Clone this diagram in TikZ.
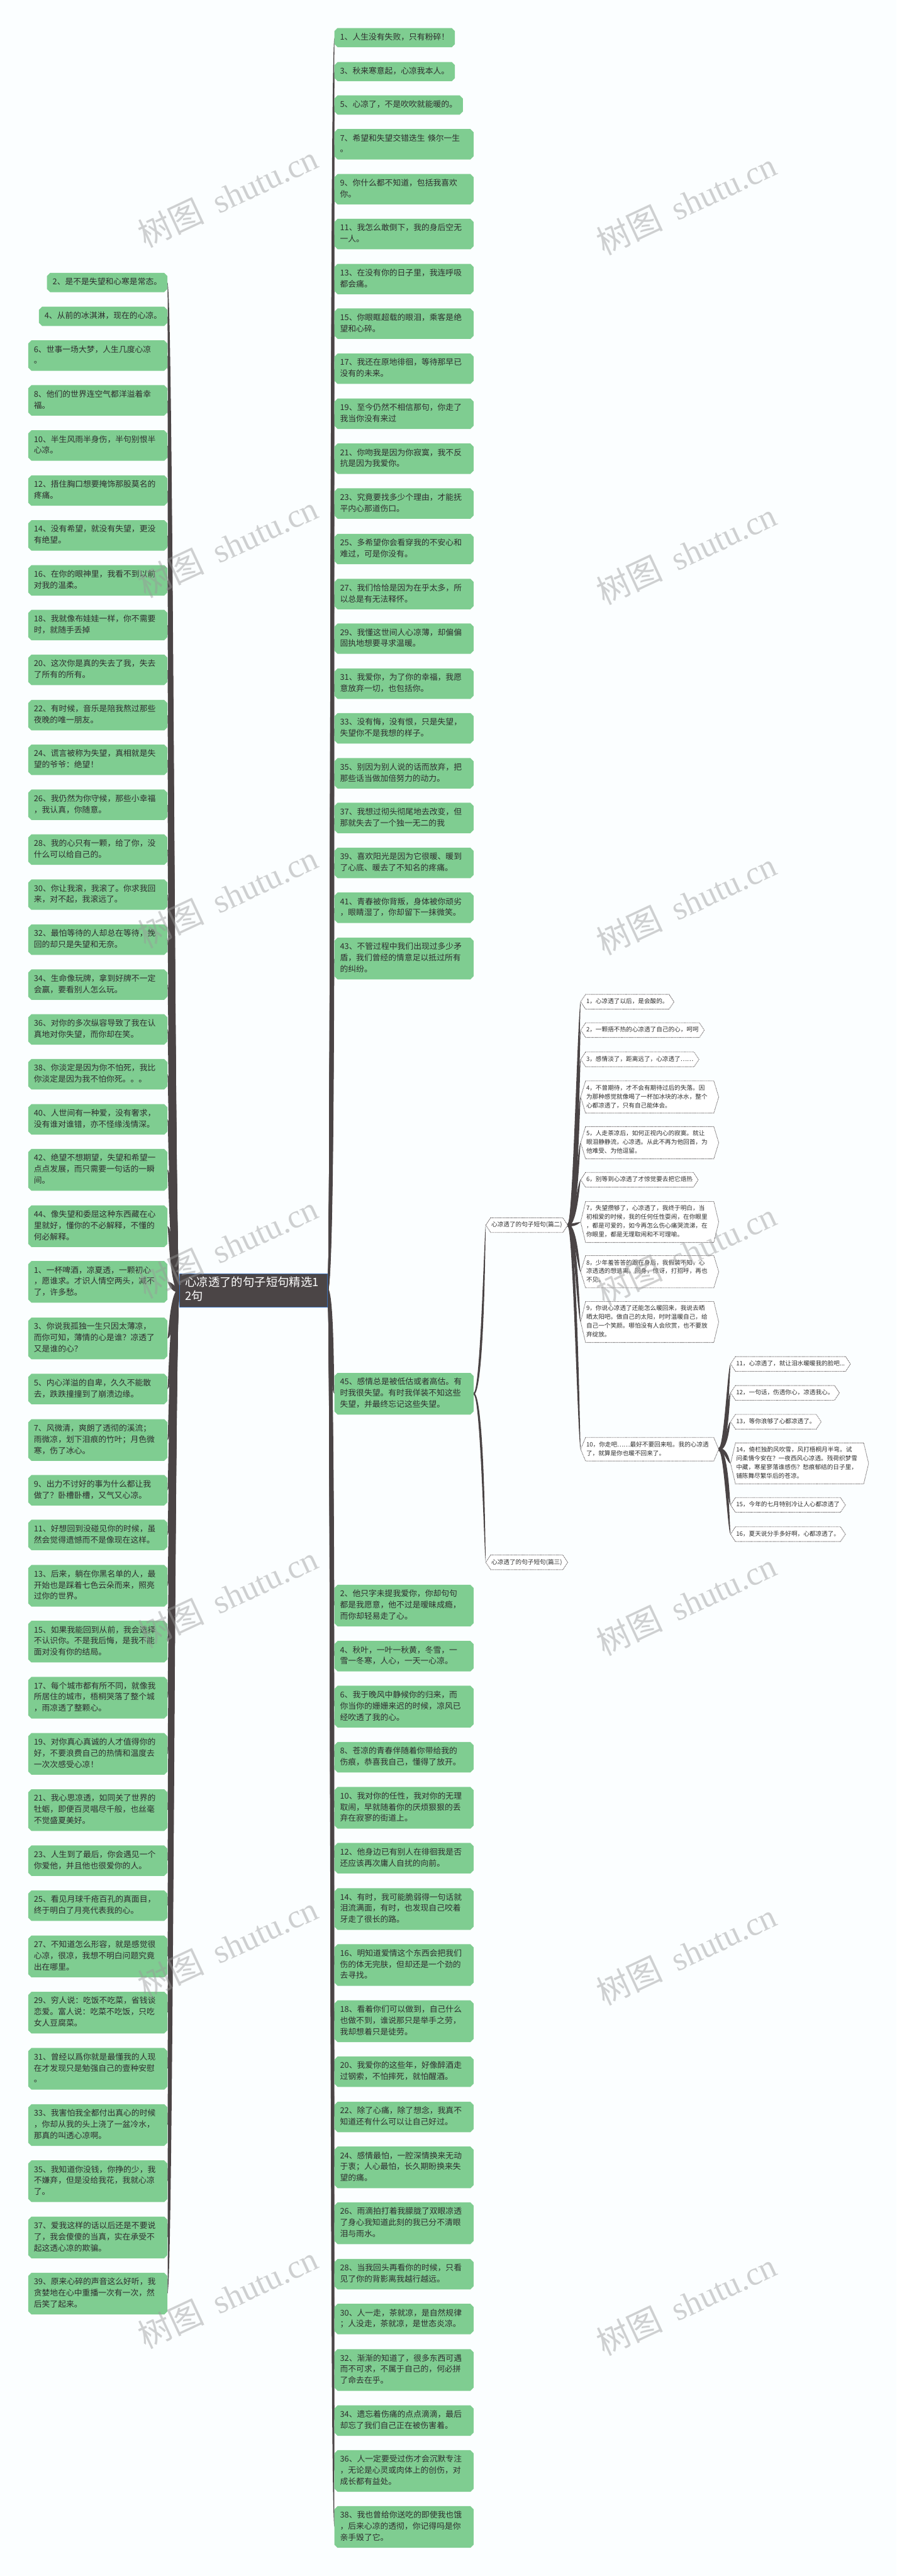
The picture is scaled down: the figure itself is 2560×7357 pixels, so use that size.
\documentclass[tikz,border=0pt]{standalone}
\usepackage{fontspec}
\setmainfont{Noto Sans CJK SC}
\newfontfamily\wmlatin{Liberation Serif}
\usetikzlibrary{calc}
\pgfdeclarelayer{bg}
\pgfdeclarelayer{mid}
\pgfsetlayers{bg,mid,main}
\definecolor{gfill}{HTML}{7FCD91}
\definecolor{lk}{HTML}{4A4445}
\definecolor{txt}{HTML}{2E2E2E}
\definecolor{rootfill}{HTML}{4B4546}
\definecolor{rootedge}{HTML}{3A6DB5}
\definecolor{bgc}{HTML}{FBFEFF}
\newcommand{\myg}{\fontsize{6.54pt}{9.1pt}\selectfont}
\newcommand{\myh}{\fontsize{4.92pt}{7.11pt}\selectfont}
\newcommand{\myr}{\fontsize{9.39pt}{11.38pt}\selectfont}
\newcommand{\myw}{\fontsize{27pt}{27pt}\selectfont}
\newcommand{\tap}[8]{\fill[lk] ($(#1)+(0,#3)$) .. controls +(#5,0) and +(#6,0) .. (#2) .. controls +(#7,0) and +(#8,0) .. ($(#1)+(0,#4)$) -- cycle;}
\newcommand{\gbx}[1]{\fill[gfill] ($(#1.north west)+(9,0)$) -- ($(#1.north east)+(-9,0)$) -- ($(#1.north east)+(0,9)$) -- ($(#1.south east)+(0,-9)$) -- ($(#1.south east)+(-9,0)$) -- ($(#1.south west)+(9,0)$) -- ($(#1.south west)+(0,-9)$) -- ($(#1.north west)+(0,9)$) -- cycle;}
\newcommand{\hexb}[1]{\filldraw[hexs] ($(#1.north west)+(14,0)$) -- ($(#1.north east)+(-14,0)$) -- (#1.east) -- ($(#1.south east)+(-14,0)$) -- ($(#1.south west)+(14,0)$) -- (#1.west) -- cycle;}
\tikzset{
 gn/.style={draw=none, fill=none, outer sep=0pt, inner xsep=0.16cm, inner ysep=0.115cm, align=left, font=\myg, text=txt, execute at begin node=\strut, execute at end node=\strut},
 gw/.style={gn, text width=3.65cm},
 hn/.style={draw=none, fill=none, outer sep=0pt, inner xsep=0.16cm, inner ysep=0.085cm, align=left, font=\myh, text=txt, execute at begin node=\strut, execute at end node=\strut},
 hw/.style={hn, text width=3.62cm},
 hexs/.style={fill=white, draw=lk, line width=0.45pt, dash pattern=on 0.45pt off 0.5pt},
 gl/.style={anchor=east},
 gr/.style={anchor=west},
 wmark/.style={rotate=25, text=black!40, opacity=0.45, font=\myw, inner sep=0pt},
}
\begin{document}
\begin{tikzpicture}[x=0.01cm,y=-0.01cm]
\useasboundingbox (0,0) rectangle (2560,7357);
\begin{pgfonlayer}{bg}
\fill[bgc] (0,0) rectangle (2560,7357);
\end{pgfonlayer}
% root
\node[draw=rootedge, fill=rootfill, line width=0.6pt, text=white, font=\myr, align=left, text width=3.9cm, inner xsep=0.16cm, inner ysep=0.075cm, outer sep=0pt, execute at begin node=\strut, execute at end node=\strut] (root) at (724,3685.5) {心凉透了的句子短句精选1\\2句};
% left column
\node[gn,gl] (l2) at (478,807) {2、是不是失望和心寒是常态。};
\node[gn,gl] (l4) at (478,903.5) {4、从前的冰淇淋，现在的心凉。};
\node[gw,gl] (l6) at (478,1015.5) {6、世事一场大梦，人生几度心凉\\。};
\node[gw,gl] (l8) at (478,1143.5) {8、他们的世界连空气都洋溢着幸\\福。};
\node[gw,gl] (l10) at (478,1272.5) {10、半生风雨半身伤，半句别恨半\\心凉。};
\node[gw,gl] (l12) at (478,1401) {12、捂住胸口想要掩饰那股莫名的\\疼痛。};
\node[gw,gl] (l14) at (478,1529) {14、没有希望，就没有失望，更没\\有绝望。};
\node[gw,gl] (l16) at (478,1657.5) {16、在你的眼神里，我看不到以前\\对我的温柔。};
\node[gw,gl] (l18) at (478,1785) {18、我就像布娃娃一样，你不需要\\时，就随手丢掉};
\node[gw,gl] (l20) at (478,1913) {20、这次你是真的失去了我，失去\\了所有的所有。};
\node[gw,gl] (l22) at (478,2042.5) {22、有时候，音乐是陪我熬过那些\\夜晚的唯一朋友。};
\node[gw,gl] (l24) at (478,2170) {24、谎言被称为失望，真相就是失\\望的爷爷：绝望！};
\node[gw,gl] (l26) at (478,2298.5) {26、我仍然为你守候，那些小幸福\\，我认真，你随意。};
\node[gw,gl] (l28) at (478,2426.5) {28、我的心只有一颗，给了你，没\\什么可以给自己的。};
\node[gw,gl] (l30) at (478,2555) {30、你让我滚，我滚了。你求我回\\来，对不起，我滚远了。};
\node[gw,gl] (l32) at (478,2683.5) {32、最怕等待的人却总在等待，挽\\回的却只是失望和无奈。};
\node[gw,gl] (l34) at (478,2812) {34、生命像玩牌，拿到好牌不一定\\会赢，要看别人怎么玩。};
\node[gw,gl] (l36) at (478,2940) {36、对你的多次纵容导致了我在认\\真地对你失望，而你却在笑。};
\node[gw,gl] (l38) at (478,3068) {38、你淡定是因为你不怕死，我比\\你淡定是因为我不怕你死。。。};
\node[gw,gl] (l40) at (478,3197) {40、人世间有一种爱，没有奢求，\\没有谁对谁错，亦不怪缘浅情深。};
\node[gw,gl] (l42) at (478,3341) {42、绝望不想期望，失望和希望一\\点点发展，而只需要一句话的一瞬\\间。};
\node[gw,gl] (l44) at (478,3502) {44、像失望和委屈这种东西藏在心\\里就好，懂你的不必解释，不懂的\\何必解释。};
\node[gw,gl] (l1) at (478,3661) {1、一杯啤酒，凉夏透，一颗初心\\，愿谁求。才识人情空两头，减不\\了，许多愁。};
\node[gw,gl] (l3) at (478,3822.5) {3、你说我孤独一生只因太薄凉，\\而你可知，薄情的心是谁？凉透了\\又是谁的心？};
\node[gw,gl] (l5) at (478,3967) {5、内心洋溢的自卑，久久不能散\\去，跌跌撞撞到了崩溃边缘。};
\node[gw,gl] (l7) at (478,4112.5) {7、风微清，爽朗了透彻的溪流；\\雨微凉，划下泪痕的竹叶；月色微\\寒，伤了冰心。};
\node[gw,gl] (l9) at (478,4256) {9、出力不讨好的事为什么都让我\\做了？卧槽卧槽，又气又心凉。};
\node[gw,gl] (l11) at (478,4383.5) {11、好想回到没碰见你的时候，虽\\然会觉得遗憾而不是像现在这样。};
\node[gw,gl] (l13) at (478,4529) {13、后来，躺在你黑名单的人，最\\开始也是踩着七色云朵而来，照亮\\过你的世界。};
\node[gw,gl] (l15) at (478,4688.5) {15、如果我能回到从前，我会选择\\不认识你。不是我后悔，是我不能\\面对没有你的结局。};
\node[gw,gl] (l17) at (478,4848.5) {17、每个城市都有所不同，就像我\\所居住的城市，梧桐哭落了整个城\\，雨凉透了整颗心。};
\node[gw,gl] (l19) at (478,5009) {19、对你真心真诚的人才值得你的\\好，不要浪费自己的热情和温度去\\一次次感受心凉！};
\node[gw,gl] (l21) at (478,5169.5) {21、我心思凉透，如同关了世界的\\牡蛎，即便百灵唱尽千般，也丝毫\\不觉盛夏美好。};
\node[gw,gl] (l23) at (478,5314) {23、人生到了最后，你会遇见一个\\你爱他，并且他也很爱你的人。};
\node[gw,gl] (l25) at (478,5442.5) {25、看见月球千疮百孔的真面目，\\终于明白了月亮代表我的心。};
\node[gw,gl] (l27) at (478,5587.5) {27、不知道怎么形容，就是感觉很\\心凉，很凉，我想不明白问题究竟\\出在哪里。};
\node[gw,gl] (l29) at (478,5748) {29、穷人说：吃饭不吃菜，省钱谈\\恋爱。富人说：吃菜不吃饭，只吃\\女人豆腐菜。};
\node[gw,gl] (l31) at (478,5908.5) {31、曾经以爲你就是最懂我的人现\\在才发现只是勉强自己的壹种安慰\\。};
\node[gw,gl] (l33) at (478,6069) {33、我害怕我全都付出真心的时候\\，你却从我的头上浇了一盆冷水，\\那真的叫透心凉啊。};
\node[gw,gl] (l35) at (478,6229.5) {35、我知道你没钱，你挣的少，我\\不嫌弃，但是没给我花，我就心凉\\了。};
\node[gw,gl] (l37) at (478,6390) {37、爱我这样的话以后还是不要说\\了，我会傻傻的当真，实在承受不\\起这透心凉的欺骗。};
\node[gw,gl] (l39) at (478,6550.5) {39、原来心碎的声音这么好听，我\\贪婪地在心中重播一次有一次，然\\后笑了起来。};
% right column
\node[gn,gr] (r1) at (955,107.5) {1、人生没有失败，只有粉碎！};
\node[gn,gr] (r3) at (955,204.5) {3、秋来寒意起，心凉我本人。};
\node[gn,gr] (r5) at (955,300) {5、心凉了，不是吹吹就能暖的。};
\node[gw,gr] (r7) at (955,412) {7、希望和失望交错迭生 倏尔一生\\。};
\node[gw,gr] (r9) at (955,540.5) {9、你什么都不知道，包括我喜欢\\你。};
\node[gw,gr] (r11) at (955,668.5) {11、我怎么敢倒下，我的身后空无\\一人。};
\node[gw,gr] (r13) at (955,797) {13、在没有你的日子里，我连呼吸\\都会痛。};
\node[gw,gr] (r15) at (955,924.5) {15、你眼眶超载的眼泪，乘客是绝\\望和心碎。};
\node[gw,gr] (r17) at (955,1053) {17、我还在原地徘徊，等待那早已\\没有的未来。};
\node[gw,gr] (r19) at (955,1181.5) {19、至今仍然不相信那句，你走了\\我当你没有来过};
\node[gw,gr] (r21) at (955,1310) {21、你吻我是因为你寂寞，我不反\\抗是因为我爱你。};
\node[gw,gr] (r23) at (955,1438) {23、究竟要找多少个理由，才能抚\\平内心那道伤口。};
\node[gw,gr] (r25) at (955,1568) {25、多希望你会看穿我的不安心和\\难过，可是你没有。};
\node[gw,gr] (r27) at (955,1696.5) {27、我们恰恰是因为在乎太多，所\\以总是有无法释怀。};
\node[gw,gr] (r29) at (955,1824) {29、我懂这世间人心凉薄，却偏偏\\固执地想要寻求温暖。};
\node[gw,gr] (r31) at (955,1952.5) {31、我爱你，为了你的幸福，我愿\\意放弃一切，也包括你。};
\node[gw,gr] (r33) at (955,2080) {33、没有悔，没有恨，只是失望，\\失望你不是我想的样子。};
\node[gw,gr] (r35) at (955,2208.5) {35、别因为别人说的话而放弃，把\\那些话当做加倍努力的动力。};
\node[gw,gr] (r37) at (955,2336) {37、我想过彻头彻尾地去改变，但\\那就失去了一个独一无二的我};
\node[gw,gr] (r39) at (955,2464.5) {39、喜欢阳光是因为它很暖、暖到\\了心底、暖去了不知名的疼痛。};
\node[gw,gr] (r41) at (955,2592.5) {41、青春被你背叛，身体被你顽劣\\，眼睛湿了，你却留下一抹微笑。};
\node[gw,gr] (r43) at (955,2737.5) {43、不管过程中我们出现过多少矛\\盾，我们曾经的情意足以抵过所有\\的纠纷。};
\node[gw,gr] (r45) at (955,3980.5) {45、感情总是被低估或者高估。有\\时我很失望。有时我佯装不知这些\\失望，并最终忘记这些失望。};
\node[gw,gr] (r2) at (955,4585.5) {2、他只字未提我爱你，你却句句\\都是我愿意，他不过是暧昧成瘾，\\而你却轻易走了心。};
\node[gw,gr] (r4) at (955,4730) {4、秋叶，一叶一秋黄，冬雪，一\\雪一冬寒，人心，一天一心凉。};
\node[gw,gr] (r6) at (955,4874) {6、我于晚风中静候你的归来，而\\你当你的姗姗来迟的时候，凉风已\\经吹透了我的心。};
\node[gw,gr] (r8) at (955,5018.5) {8、苍凉的青春伴随着你带给我的\\伤痕，恭喜我自己，懂得了放开。};
\node[gw,gr] (r10) at (955,5163) {10、我对你的任性，我对你的无理\\取闹，早就随着你的厌烦狠狠的丢\\弃在寂寥的街道上。};
\node[gw,gr] (r12) at (955,5307) {12、他身边已有别人在徘徊我是否\\还应该再次庸人自扰的向前。};
\node[gw,gr] (r14) at (955,5452) {14、有时，我可能脆弱得一句话就\\泪流满面，有时，也发现自己咬着\\牙走了很长的路。};
\node[gw,gr] (r16) at (955,5612) {16、明知道爱情这个东西会把我们\\伤的体无完肤，但却还是一个劲的\\去寻找。};
\node[gw,gr] (r18) at (955,5772.5) {18、看着你们可以做到，自己什么\\也做不到，谁说那只是举手之劳，\\我却想着只是徒劳。};
\node[gw,gr] (r20) at (955,5916.5) {20、我爱你的这些年，好像醉酒走\\过钢索，不怕摔死，就怕醒酒。};
\node[gw,gr] (r22) at (955,6046) {22、除了心痛，除了想念，我真不\\知道还有什么可以让自己好过。};
\node[gw,gr] (r24) at (955,6190) {24、感情最怕，一腔深情换来无动\\于衷；人心最怕，长久期盼换来失\\望的痛。};
\node[gw,gr] (r26) at (955,6349.5) {26、雨滴拍打着我朦胧了双眼凉透\\了身心我知道此刻的我已分不清眼\\泪与雨水。};
\node[gw,gr] (r28) at (955,6495) {28、当我回头再看你的时候，只看\\见了你的背影离我越行越远。};
\node[gw,gr] (r30) at (955,6623) {30、人一走，茶就凉，是自然规律\\；人没走，茶就凉，是世态炎凉。};
\node[gw,gr] (r32) at (955,6768.5) {32、渐渐的知道了，很多东西可遇\\而不可求，不属于自己的，何必拼\\了命去在乎。};
\node[gw,gr] (r34) at (955,6913) {34、遗忘着伤痛的点点滴滴，最后\\却忘了我们自己正在被伤害着。};
\node[gw,gr] (r36) at (955,7057) {36、人一定要受过伤才会沉默专注\\，无论是心灵或肉体上的创伤，对\\成长都有益处。};
\node[gw,gr] (r38) at (955,7217) {38、我也曾给你送吃的即使我也饿\\，后来心凉的透彻，你记得吗是你\\亲手毁了它。};
% second level
\node[hn,gr] (pian2) at (1387,3499) {心凉透了的句子短句(篇二)};
\node[hn,gr] (pian3) at (1387,4462) {心凉透了的句子短句(篇三)};
\node[hn,gr] (p1) at (1658,2861) {1，心凉透了以后，是会酸的。};
\node[hn,gr] (p2) at (1658,2942) {2，一颗捂不热的心凉透了自己的心，呵呵};
\node[hn,gr] (p3) at (1658,3025.5) {3，感情淡了，距离远了，心凉透了……};
\node[hw,gr] (p4) at (1658,3133) {4，不曾期待，才不会有期待过后的失落。因\\为那种感觉就像喝了一杯加冰块的冰水，整个\\心都凉透了，只有自己能体会。};
\node[hw,gr] (p5) at (1658,3263.5) {5，人走茶凉后，如何正视内心的寂寞。就让\\眼泪静静流，心凉透。从此不再为他回首，为\\他难受、为他逗留。};
\node[hn,gr] (p6) at (1658,3369.5) {6，别等到心凉透了才惊觉要去把它焐热};
\node[hw,gr] (p7) at (1658,3490) {7，失望攒够了，心凉透了，我终于明白，当\\初相爱的时候，我的任何任性耍闹，在你眼里\\，都是可爱的，如今再怎么伤心痛哭流涕，在\\你眼里，都是无理取闹和不可理喻。};
\node[hw,gr] (p8) at (1658,3632) {8，少年羞答答的跟在身后，我假装不知，心\\凉透透的想逃离。回身，惊讶，打招呼，再也\\不见。};
\node[hw,gr] (p9) at (1658,3775.5) {9，你说心凉透了还能怎么暖回来，我说去晒\\晒太阳吧。做自己的太阳，时时温暖自己，给\\自己一个笑颜。哪怕没有人会欣赏，也不要放\\弃绽放。};
\node[hw,gr] (p10) at (1658,4139) {10，你走吧……最好不要回来啦。我的心凉透\\了，就算是你也暖不回来了。};
\node[hn,gr] (f11) at (2086,3895.5) {11，心凉透了，就让泪水暖暖我的脸吧...};
\node[hn,gr] (f12) at (2086,3978) {12，一句话，伤透你心，凉透我心。};
\node[hn,gr] (f13) at (2086,4060.5) {13，等你浪够了心都凉透了。};
\node[hw,gr] (f14) at (2086,4179.5) {14，倚栏独酌风吹雪，风打梧桐月半弯。试\\问柔情今安在？一夜西风心凉透。残荷织梦雪\\中藏，寒星寥落谁感伤？愁痕郁结的日子里，\\铺陈舞尽繁华后的苍凉。};
\node[hn,gr] (f15) at (2086,4298) {15，今年的七月特别冷让人心都凉透了};
\node[hn,gr] (f16) at (2086,4381.5) {16，夏天说分手多好啊，心都凉透了。};
% boxes
\begin{pgfonlayer}{mid}
\foreach \n in {l1,l2,l3,l4,l5,l6,l7,l8,l9,l10,l11,l12,l13,l14,l15,l16,l17,l18,l19,l20,l21,l22,l23,l24,l25,l26,l27,l28,l29,l30,l31,l32,l33,l34,l35,l36,l37,l38,l39,l40,l42,l44,r1,r2,r3,r4,r5,r6,r7,r8,r9,r10,r11,r12,r13,r14,r15,r16,r17,r18,r19,r20,r21,r22,r23,r24,r25,r26,r27,r28,r29,r30,r31,r32,r33,r34,r35,r36,r37,r38,r39,r41,r43,r45} {\gbx{\n}}
\foreach \n in {pian2,pian3,p1,p2,p3,p4,p5,p6,p7,p8,p9,p10,f11,f12,f13,f14,f15,f16} {\hexb{\n}}
\end{pgfonlayer}
% connectors
\begin{pgfonlayer}{bg}
\foreach \n in {r1,r3,r5,r7,r9,r11,r13,r15,r17,r19,r21,r23,r25,r27,r29,r31,r33,r35,r37,r39,r41,r43} {\tap{root.east}{\n.west}{-6}{6}{10}{-15}{-2}{20}}
\foreach \n in {r45,r2,r4,r6,r8,r10,r12,r14,r16,r18,r20,r22,r24,r26,r28,r30,r32,r34,r36,r38} {\tap{root.east}{\n.west}{6}{-6}{10}{-15}{-2}{20}}
\foreach \n in {l2,l4,l6,l8,l10,l12,l14,l16,l18,l20,l22,l24,l26,l28,l30,l32,l34,l36,l38,l40,l42,l44,l1} {\tap{root.west}{\n.east}{-6}{6}{-14}{18}{3}{-28}}
\foreach \n in {l3,l5,l7,l9,l11,l13,l15,l17,l19,l21,l23,l25,l27,l29,l31,l33,l35,l37,l39} {\tap{root.west}{\n.east}{6}{-6}{-14}{18}{3}{-28}}
\tap{r45.east}{pian2.west}{-3}{3}{20}{-4}{-1}{32}
\tap{r45.east}{pian3.west}{3}{-3}{20}{-4}{-1}{32}
\foreach \n in {p1,p2,p3,p4,p5,p6,p7} {\tap{pian2.east}{\n.west}{-4}{4}{15}{-8}{-2}{28}}
\foreach \n in {p8,p9,p10} {\tap{pian2.east}{\n.west}{4}{-4}{15}{-8}{-2}{28}}
\foreach \n in {f11,f12,f13} {\tap{p10.east}{\n.west}{-4}{4}{15}{-8}{-2}{28}}
\foreach \n in {f14,f15,f16} {\tap{p10.east}{\n.west}{4}{-4}{15}{-8}{-2}{28}}
\end{pgfonlayer}
% watermarks
\foreach \k in {0,1,2,3,4,5,6} {
 \node[wmark] (wl\k) at (650,560+1000*\k) {树图\ \ {\wmlatin shutu.cn}};
 \node[wmark] (wr\k) at (1960,580+1000*\k) {树图\ \ {\wmlatin shutu.cn}};
}
\end{tikzpicture}
\end{document}
